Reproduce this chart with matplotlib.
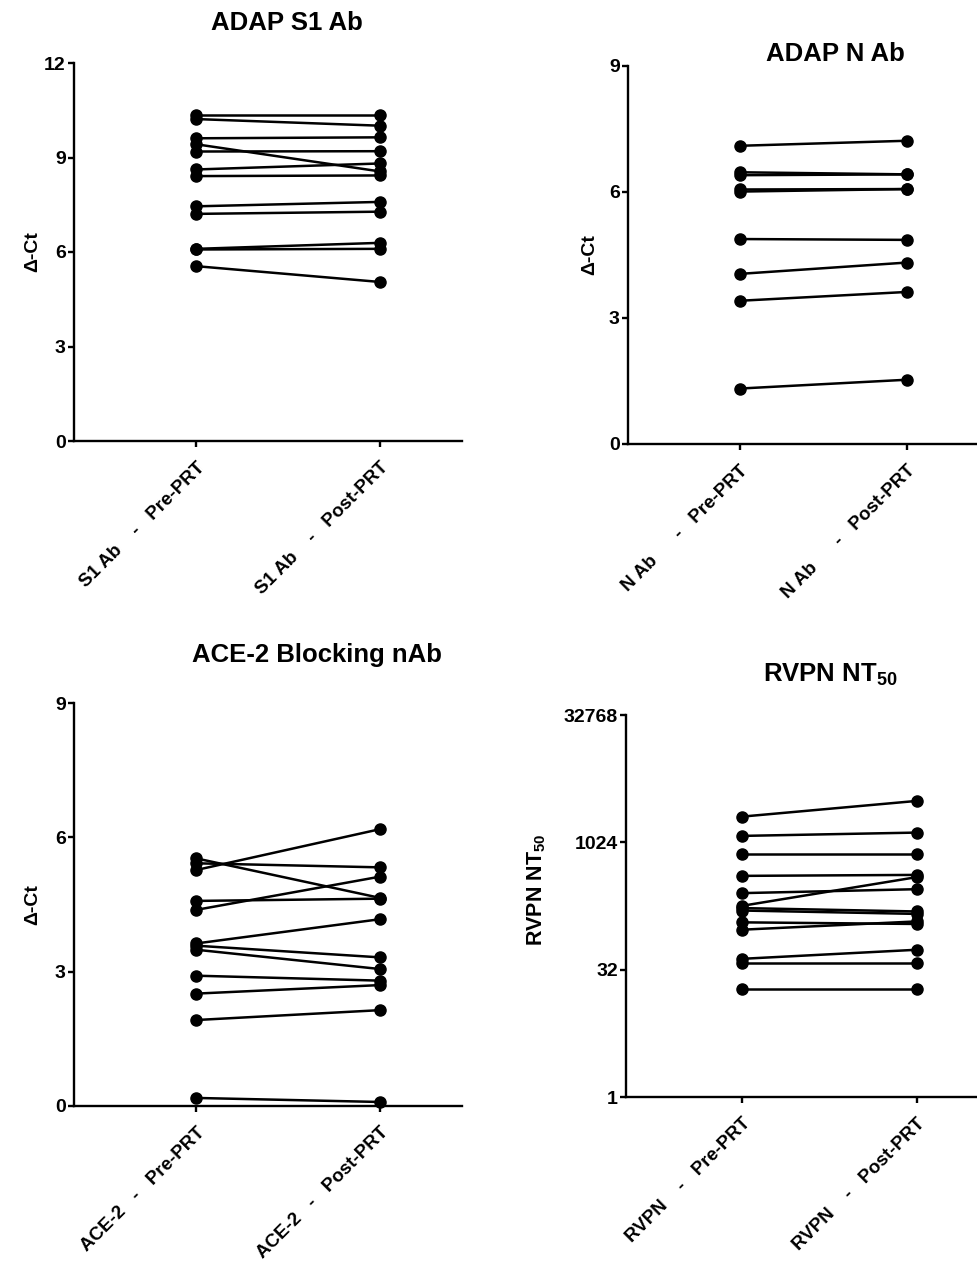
import matplotlib
matplotlib.use("Agg")
import matplotlib.pyplot as plt
from matplotlib.ticker import NullLocator

plt.rcParams['font.family'] = ['Liberation Sans', 'DejaVu Sans']
plt.rcParams['font.weight'] = 'bold'
plt.rcParams['mathtext.fontset'] = 'custom'
plt.rcParams['mathtext.rm'] = 'Liberation Sans:bold'
plt.rcParams['mathtext.it'] = 'Liberation Sans:bold'
plt.rcParams['mathtext.bf'] = 'Liberation Sans:bold'

# ---------------- data ----------------
s1_labels = ["S1 Ab    -   Pre-PRT", "S1 Ab    -   Post-PRT"]
s1_pre = [10.35, 10.22, 9.61, 9.42, 9.19, 8.62, 8.41, 7.45, 7.21, 6.10, 6.08, 5.55]
s1_post = [10.35, 10.01, 9.64, 8.56, 9.20, 8.81, 8.43, 7.59, 7.28, 6.29, 6.10, 5.05]
s1_ticks = [0, 3, 6, 9, 12]

n_labels = ["N Ab      -   Pre-PRT", "N Ab      -   Post-PRT"]
n_pre = [7.10, 6.47, 6.40, 6.06, 6.01, 4.88, 4.05, 3.41, 1.32]
n_post = [7.22, 6.42, 6.42, 6.07, 6.07, 4.86, 4.32, 3.62, 1.53]
n_ticks = [0, 3, 6, 9]

ace_labels = ["ACE-2   -   Pre-PRT", "ACE-2   -   Post-PRT"]
ace_pre = [5.53, 5.42, 5.27, 4.58, 4.38, 3.63, 3.58, 3.49, 2.91, 2.51, 1.92, 0.18]
ace_post = [4.65, 5.33, 6.18, 4.63, 5.12, 4.17, 3.32, 3.06, 2.80, 2.70, 2.14, 0.09]
ace_ticks = [0, 3, 6, 9]

rv_labels = ["RVPN    -   Pre-PRT", "RVPN    -   Post-PRT"]
rv_pre = [2063, 1220, 748, 411, 257, 182, 171, 160, 116, 95, 43, 38, 19]
rv_post = [3160, 1335, 748, 422, 286, 397, 156, 146, 111, 119, 55, 38, 19]
rv_ticks = [1, 32, 1024, 32768]
rv_ticklabels = ["1", "32", "1024", "32768"]

W, H = 977, 1270
fig = plt.figure(figsize=(W / 100, H / 100), dpi=100)


def px_axes(left, right, top, bottom):
    return fig.add_axes([left / W, 1 - bottom / H, (right - left) / W, (bottom - top) / H])


def style(ax, labels, ticks, ticklabels=None):
    for s in ['top', 'right']:
        ax.spines[s].set_visible(False)
    for s in ['left', 'bottom']:
        ax.spines[s].set_linewidth(1.7)
    ax.set_xlim(-0.667, 1.45)
    ax.set_xticks([0, 1])
    ax.set_xticklabels(labels, rotation=45, ha='right', rotation_mode='anchor',
                       fontsize=13.5, fontweight='bold')
    ax.set_yticks(ticks)
    ax.set_yticklabels(ticklabels if ticklabels else [str(t) for t in ticks],
                       fontsize=14, fontweight='bold')
    ax.yaxis.set_minor_locator(NullLocator())
    ax.tick_params(direction='out', length=4, width=1.7)
    ax.tick_params(axis='x', pad=9)
    ax.tick_params(axis='y', pad=2)


def pairs(ax, pre, post):
    for a, b in zip(pre, post):
        ax.plot([0, 1], [a, b], color='black', lw=1.8, marker='o', ms=8,
                clip_on=False, zorder=3)


ax1 = px_axes(74, 462, 63, 441)
pairs(ax1, s1_pre, s1_post)
ax1.set_ylim(0, 12)
style(ax1, s1_labels, s1_ticks)

ax2 = px_axes(628, 982, 66, 444)
pairs(ax2, n_pre, n_post)
ax2.set_ylim(0, 9)
style(ax2, n_labels, n_ticks)

ax3 = px_axes(74, 462, 703, 1106)
pairs(ax3, ace_pre, ace_post)
ax3.set_ylim(0, 9)
style(ax3, ace_labels, ace_ticks)

ax4 = px_axes(626, 995, 715, 1097)
ax4.set_yscale('log', base=2)
pairs(ax4, rv_pre, rv_post)
ax4.set_ylim(1, 32768)
style(ax4, rv_labels, rv_ticks, rv_ticklabels)

# titles
tfs = 18.5
fig.text(287 / W, 1 - 23 / H, "ADAP S1 Ab", ha='center', va='center', fontsize=tfs, fontweight='bold')
fig.text(835 / W, 1 - 54 / H, "ADAP N Ab", ha='center', va='center', fontsize=tfs, fontweight='bold')
fig.text(317 / W, 1 - 655 / H, "ACE-2 Blocking nAb", ha='center', va='center', fontsize=tfs, fontweight='bold')
fig.text(830 / W, 1 - 675 / H, "RVPN NT$_{50}$", ha='center', va='center', fontsize=tfs, fontweight='bold')

# y labels
fig.text(33 / W, 1 - 252 / H, "Δ-Ct", rotation=90, ha='center', va='center', fontsize=14, fontweight='bold')
fig.text(590 / W, 1 - 255 / H, "Δ-Ct", rotation=90, ha='center', va='center', fontsize=14, fontweight='bold')
fig.text(33 / W, 1 - 905 / H, "Δ-Ct", rotation=90, ha='center', va='center', fontsize=14, fontweight='bold')
fig.text(537 / W, 1 - 890 / H, "RVPN NT$_{50}$", rotation=90, ha='center', va='center', fontsize=15.5, fontweight='bold')

fig.savefig("out.png", dpi=100)
